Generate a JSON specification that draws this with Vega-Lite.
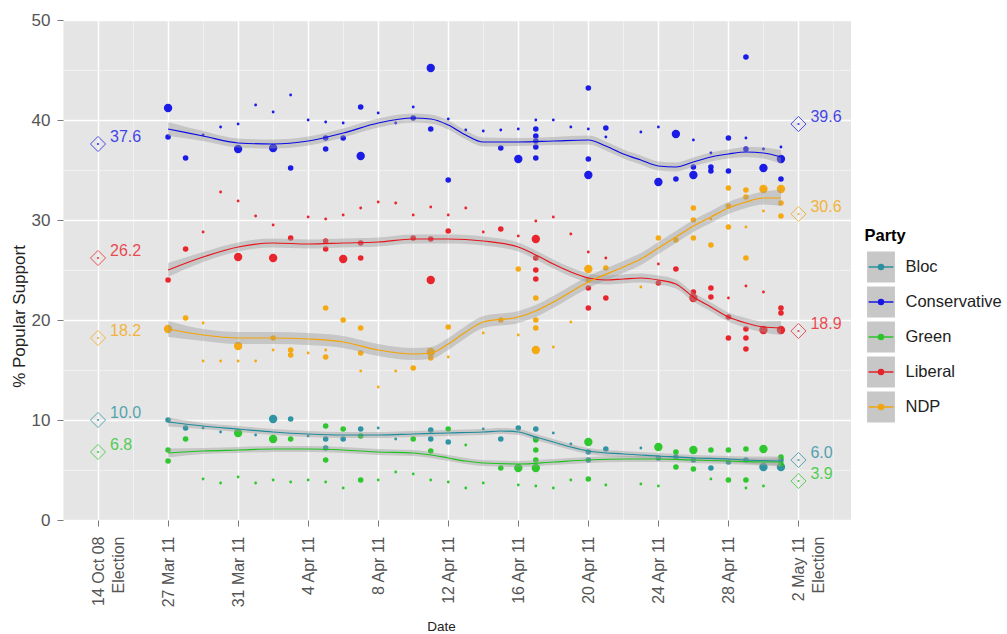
{
  "$schema": "https://vega.github.io/schema/vega-lite/v6.json",
  "width": 788,
  "height": 500,
  "autosize": {"type": "none"},
  "padding": {"left": 63, "top": 20, "right": 156, "bottom": 114},
  "background": "white",
  "config": {
    "font": "Liberation Sans",
    "view": {"fill": "#e5e5e5", "stroke": null},
    "axis": {"domain": false, "labelFont": "Liberation Sans", "titleFont": "Liberation Sans", "labelColor": "#555555", "titleFontWeight": "normal", "titleColor": "#222222"},
    "legend": {"labelFont": "Liberation Sans", "titleFont": "Liberation Sans"}
  },
  "datasets": {
    "polls": [
      {"party":"Conservative","day":0,"pct":41.2,"n":2000},{"party":"Conservative","day":0,"pct":38.3,"n":1000},{"party":"Conservative","day":1,"pct":36.2,"n":1000},{"party":"Conservative","day":2,"pct":38.5,"n":400},{"party":"Conservative","day":3,"pct":39.3,"n":400},{"party":"Conservative","day":4,"pct":39.6,"n":400},{"party":"Conservative","day":4,"pct":37.1,"n":2000},{"party":"Conservative","day":5,"pct":41.5,"n":400},{"party":"Conservative","day":6,"pct":40.8,"n":400},{"party":"Conservative","day":6,"pct":37.2,"n":2000},{"party":"Conservative","day":7,"pct":35.2,"n":1000},{"party":"Conservative","day":7,"pct":42.5,"n":400},{"party":"Conservative","day":8,"pct":40.0,"n":400},{"party":"Conservative","day":9,"pct":39.8,"n":400},{"party":"Conservative","day":9,"pct":38.2,"n":1000},{"party":"Conservative","day":9,"pct":37.1,"n":1000},{"party":"Conservative","day":10,"pct":39.7,"n":400},{"party":"Conservative","day":10,"pct":38.2,"n":1000},{"party":"Conservative","day":11,"pct":41.3,"n":1000},{"party":"Conservative","day":11,"pct":36.4,"n":2000},{"party":"Conservative","day":12,"pct":40.7,"n":400},{"party":"Conservative","day":13,"pct":39.7,"n":400},{"party":"Conservative","day":14,"pct":41.3,"n":400},{"party":"Conservative","day":14,"pct":40.2,"n":1000},{"party":"Conservative","day":15,"pct":45.2,"n":2000},{"party":"Conservative","day":15,"pct":39.1,"n":1000},{"party":"Conservative","day":16,"pct":34.0,"n":1000},{"party":"Conservative","day":16,"pct":40.1,"n":400},{"party":"Conservative","day":17,"pct":39.0,"n":400},{"party":"Conservative","day":18,"pct":38.9,"n":400},{"party":"Conservative","day":19,"pct":39.0,"n":400},{"party":"Conservative","day":19,"pct":37.2,"n":1000},{"party":"Conservative","day":20,"pct":39.1,"n":400},{"party":"Conservative","day":20,"pct":36.1,"n":2000},{"party":"Conservative","day":21,"pct":40.0,"n":400},{"party":"Conservative","day":21,"pct":39.1,"n":1000},{"party":"Conservative","day":21,"pct":38.4,"n":1000},{"party":"Conservative","day":21,"pct":37.9,"n":1000},{"party":"Conservative","day":21,"pct":37.3,"n":1000},{"party":"Conservative","day":21,"pct":36.2,"n":1000},{"party":"Conservative","day":22,"pct":40.0,"n":400},{"party":"Conservative","day":23,"pct":39.3,"n":400},{"party":"Conservative","day":24,"pct":39.1,"n":400},{"party":"Conservative","day":24,"pct":43.2,"n":1000},{"party":"Conservative","day":24,"pct":36.1,"n":1000},{"party":"Conservative","day":24,"pct":34.5,"n":2000},{"party":"Conservative","day":25,"pct":39.2,"n":1000},{"party":"Conservative","day":25,"pct":38.3,"n":400},{"party":"Conservative","day":27,"pct":38.8,"n":400},{"party":"Conservative","day":28,"pct":39.3,"n":400},{"party":"Conservative","day":28,"pct":33.8,"n":2000},{"party":"Conservative","day":29,"pct":38.6,"n":2000},{"party":"Conservative","day":29,"pct":34.1,"n":1000},{"party":"Conservative","day":30,"pct":38.0,"n":400},{"party":"Conservative","day":30,"pct":35.3,"n":1000},{"party":"Conservative","day":30,"pct":34.5,"n":2000},{"party":"Conservative","day":31,"pct":36.7,"n":400},{"party":"Conservative","day":31,"pct":35.3,"n":1000},{"party":"Conservative","day":31,"pct":34.9,"n":1000},{"party":"Conservative","day":32,"pct":38.2,"n":1000},{"party":"Conservative","day":32,"pct":34.9,"n":1000},{"party":"Conservative","day":33,"pct":46.3,"n":1000},{"party":"Conservative","day":33,"pct":38.2,"n":400},{"party":"Conservative","day":33,"pct":37.1,"n":1000},{"party":"Conservative","day":34,"pct":37.1,"n":400},{"party":"Conservative","day":34,"pct":35.2,"n":2000},{"party":"Conservative","day":35,"pct":37.3,"n":400},{"party":"Conservative","day":35,"pct":36.1,"n":2000},{"party":"Conservative","day":35,"pct":34.1,"n":1000},
      {"party":"Liberal","day":0,"pct":24.0,"n":1000},{"party":"Liberal","day":1,"pct":27.1,"n":1000},{"party":"Liberal","day":2,"pct":28.8,"n":400},{"party":"Liberal","day":3,"pct":32.8,"n":400},{"party":"Liberal","day":4,"pct":31.9,"n":400},{"party":"Liberal","day":4,"pct":26.3,"n":2000},{"party":"Liberal","day":5,"pct":30.4,"n":400},{"party":"Liberal","day":6,"pct":29.5,"n":400},{"party":"Liberal","day":6,"pct":26.2,"n":2000},{"party":"Liberal","day":7,"pct":28.2,"n":1000},{"party":"Liberal","day":8,"pct":30.3,"n":400},{"party":"Liberal","day":9,"pct":30.1,"n":400},{"party":"Liberal","day":9,"pct":27.9,"n":1000},{"party":"Liberal","day":9,"pct":27.1,"n":1000},{"party":"Liberal","day":10,"pct":30.5,"n":400},{"party":"Liberal","day":10,"pct":26.1,"n":2000},{"party":"Liberal","day":11,"pct":31.2,"n":400},{"party":"Liberal","day":11,"pct":27.7,"n":1000},{"party":"Liberal","day":11,"pct":26.2,"n":1000},{"party":"Liberal","day":12,"pct":31.8,"n":400},{"party":"Liberal","day":13,"pct":31.7,"n":400},{"party":"Liberal","day":14,"pct":30.5,"n":400},{"party":"Liberal","day":14,"pct":28.2,"n":1000},{"party":"Liberal","day":15,"pct":31.3,"n":400},{"party":"Liberal","day":15,"pct":28.1,"n":1000},{"party":"Liberal","day":15,"pct":24.0,"n":2000},{"party":"Liberal","day":16,"pct":30.5,"n":400},{"party":"Liberal","day":16,"pct":28.9,"n":1000},{"party":"Liberal","day":17,"pct":31.2,"n":400},{"party":"Liberal","day":18,"pct":28.8,"n":400},{"party":"Liberal","day":19,"pct":29.1,"n":1000},{"party":"Liberal","day":20,"pct":28.4,"n":400},{"party":"Liberal","day":21,"pct":28.1,"n":2000},{"party":"Liberal","day":21,"pct":26.2,"n":1000},{"party":"Liberal","day":21,"pct":25.0,"n":1000},{"party":"Liberal","day":21,"pct":24.1,"n":1000},{"party":"Liberal","day":21,"pct":29.9,"n":400},{"party":"Liberal","day":22,"pct":30.3,"n":400},{"party":"Liberal","day":23,"pct":28.6,"n":400},{"party":"Liberal","day":24,"pct":26.8,"n":400},{"party":"Liberal","day":24,"pct":23.2,"n":1000},{"party":"Liberal","day":24,"pct":21.2,"n":1000},{"party":"Liberal","day":25,"pct":26.2,"n":400},{"party":"Liberal","day":25,"pct":22.2,"n":1000},{"party":"Liberal","day":28,"pct":25.6,"n":400},{"party":"Liberal","day":28,"pct":23.7,"n":1000},{"party":"Liberal","day":29,"pct":25.1,"n":1000},{"party":"Liberal","day":30,"pct":22.2,"n":2000},{"party":"Liberal","day":30,"pct":22.8,"n":1000},{"party":"Liberal","day":31,"pct":23.2,"n":1000},{"party":"Liberal","day":31,"pct":22.3,"n":1000},{"party":"Liberal","day":32,"pct":20.3,"n":1000},{"party":"Liberal","day":32,"pct":22.2,"n":400},{"party":"Liberal","day":32,"pct":18.2,"n":1000},{"party":"Liberal","day":33,"pct":23.4,"n":400},{"party":"Liberal","day":33,"pct":19.1,"n":1000},{"party":"Liberal","day":33,"pct":18.2,"n":1000},{"party":"Liberal","day":33,"pct":17.1,"n":1000},{"party":"Liberal","day":34,"pct":22.8,"n":400},{"party":"Liberal","day":34,"pct":19.0,"n":2000},{"party":"Liberal","day":35,"pct":21.2,"n":1000},{"party":"Liberal","day":35,"pct":20.7,"n":1000},{"party":"Liberal","day":35,"pct":19.0,"n":2000},
      {"party":"NDP","day":0,"pct":19.1,"n":2000},{"party":"NDP","day":1,"pct":20.2,"n":1000},{"party":"NDP","day":2,"pct":19.7,"n":400},{"party":"NDP","day":2,"pct":15.9,"n":400},{"party":"NDP","day":3,"pct":15.9,"n":400},{"party":"NDP","day":4,"pct":17.4,"n":2000},{"party":"NDP","day":4,"pct":15.9,"n":400},{"party":"NDP","day":5,"pct":15.9,"n":400},{"party":"NDP","day":6,"pct":18.2,"n":1000},{"party":"NDP","day":6,"pct":17.0,"n":400},{"party":"NDP","day":7,"pct":17.0,"n":1000},{"party":"NDP","day":7,"pct":16.5,"n":1000},{"party":"NDP","day":8,"pct":16.7,"n":400},{"party":"NDP","day":9,"pct":21.2,"n":1000},{"party":"NDP","day":9,"pct":16.3,"n":1000},{"party":"NDP","day":9,"pct":17.0,"n":400},{"party":"NDP","day":10,"pct":20.0,"n":1000},{"party":"NDP","day":11,"pct":19.2,"n":1000},{"party":"NDP","day":11,"pct":16.7,"n":1000},{"party":"NDP","day":11,"pct":14.9,"n":400},{"party":"NDP","day":12,"pct":13.3,"n":400},{"party":"NDP","day":13,"pct":14.9,"n":400},{"party":"NDP","day":14,"pct":15.2,"n":1000},{"party":"NDP","day":15,"pct":16.8,"n":2000},{"party":"NDP","day":15,"pct":16.2,"n":1000},{"party":"NDP","day":16,"pct":19.3,"n":1000},{"party":"NDP","day":16,"pct":16.3,"n":400},{"party":"NDP","day":18,"pct":18.7,"n":400},{"party":"NDP","day":19,"pct":20.0,"n":1000},{"party":"NDP","day":20,"pct":18.5,"n":400},{"party":"NDP","day":20,"pct":25.1,"n":1000},{"party":"NDP","day":21,"pct":22.2,"n":1000},{"party":"NDP","day":21,"pct":20.0,"n":1000},{"party":"NDP","day":21,"pct":19.2,"n":1000},{"party":"NDP","day":21,"pct":17.0,"n":2000},{"party":"NDP","day":22,"pct":17.3,"n":400},{"party":"NDP","day":23,"pct":19.8,"n":400},{"party":"NDP","day":24,"pct":25.1,"n":2000},{"party":"NDP","day":24,"pct":24.0,"n":1000},{"party":"NDP","day":25,"pct":25.2,"n":1000},{"party":"NDP","day":27,"pct":23.3,"n":400},{"party":"NDP","day":28,"pct":28.2,"n":1000},{"party":"NDP","day":29,"pct":28.0,"n":1000},{"party":"NDP","day":30,"pct":31.2,"n":1000},{"party":"NDP","day":30,"pct":30.0,"n":1000},{"party":"NDP","day":30,"pct":28.2,"n":1000},{"party":"NDP","day":31,"pct":27.5,"n":1000},{"party":"NDP","day":31,"pct":30.1,"n":400},{"party":"NDP","day":32,"pct":33.2,"n":1000},{"party":"NDP","day":32,"pct":31.4,"n":1000},{"party":"NDP","day":32,"pct":29.3,"n":1000},{"party":"NDP","day":33,"pct":33.0,"n":1000},{"party":"NDP","day":33,"pct":32.3,"n":1000},{"party":"NDP","day":33,"pct":29.3,"n":400},{"party":"NDP","day":33,"pct":26.2,"n":1000},{"party":"NDP","day":34,"pct":33.1,"n":2000},{"party":"NDP","day":34,"pct":30.9,"n":400},{"party":"NDP","day":35,"pct":33.1,"n":2000},{"party":"NDP","day":35,"pct":31.7,"n":1000},{"party":"NDP","day":35,"pct":30.4,"n":1000},
      {"party":"Bloc","day":0,"pct":10.0,"n":1000},{"party":"Bloc","day":1,"pct":9.2,"n":1000},{"party":"Bloc","day":2,"pct":9.2,"n":400},{"party":"Bloc","day":3,"pct":8.8,"n":400},{"party":"Bloc","day":5,"pct":8.5,"n":400},{"party":"Bloc","day":6,"pct":10.1,"n":2000},{"party":"Bloc","day":7,"pct":10.1,"n":1000},{"party":"Bloc","day":8,"pct":8.4,"n":400},{"party":"Bloc","day":9,"pct":8.1,"n":1000},{"party":"Bloc","day":9,"pct":7.2,"n":1000},{"party":"Bloc","day":10,"pct":8.1,"n":1000},{"party":"Bloc","day":11,"pct":9.1,"n":1000},{"party":"Bloc","day":12,"pct":9.2,"n":400},{"party":"Bloc","day":13,"pct":8.1,"n":400},{"party":"Bloc","day":15,"pct":9.0,"n":1000},{"party":"Bloc","day":15,"pct":8.1,"n":1000},{"party":"Bloc","day":16,"pct":7.8,"n":1000},{"party":"Bloc","day":18,"pct":9.1,"n":400},{"party":"Bloc","day":19,"pct":8.1,"n":1000},{"party":"Bloc","day":20,"pct":9.2,"n":1000},{"party":"Bloc","day":21,"pct":9.1,"n":1000},{"party":"Bloc","day":21,"pct":8.1,"n":1000},{"party":"Bloc","day":22,"pct":8.7,"n":400},{"party":"Bloc","day":23,"pct":7.6,"n":400},{"party":"Bloc","day":24,"pct":6.8,"n":1000},{"party":"Bloc","day":24,"pct":6.0,"n":1000},{"party":"Bloc","day":25,"pct":7.1,"n":1000},{"party":"Bloc","day":27,"pct":7.2,"n":400},{"party":"Bloc","day":28,"pct":6.2,"n":1000},{"party":"Bloc","day":29,"pct":6.3,"n":1000},{"party":"Bloc","day":30,"pct":6.0,"n":1000},{"party":"Bloc","day":31,"pct":5.2,"n":1000},{"party":"Bloc","day":32,"pct":5.8,"n":1000},{"party":"Bloc","day":33,"pct":6.0,"n":1000},{"party":"Bloc","day":34,"pct":5.3,"n":2000},{"party":"Bloc","day":35,"pct":5.3,"n":2000},{"party":"Bloc","day":35,"pct":6.0,"n":1000},
      {"party":"Green","day":0,"pct":7.0,"n":1000},{"party":"Green","day":0,"pct":5.9,"n":1000},{"party":"Green","day":1,"pct":8.1,"n":1000},{"party":"Green","day":2,"pct":4.1,"n":400},{"party":"Green","day":3,"pct":3.7,"n":400},{"party":"Green","day":4,"pct":8.7,"n":2000},{"party":"Green","day":4,"pct":4.3,"n":400},{"party":"Green","day":5,"pct":3.7,"n":400},{"party":"Green","day":6,"pct":8.1,"n":2000},{"party":"Green","day":6,"pct":4.0,"n":400},{"party":"Green","day":7,"pct":8.1,"n":1000},{"party":"Green","day":7,"pct":3.8,"n":400},{"party":"Green","day":8,"pct":4.0,"n":400},{"party":"Green","day":9,"pct":9.4,"n":1000},{"party":"Green","day":9,"pct":6.0,"n":1000},{"party":"Green","day":9,"pct":3.8,"n":400},{"party":"Green","day":10,"pct":9.1,"n":1000},{"party":"Green","day":10,"pct":3.2,"n":400},{"party":"Green","day":11,"pct":8.4,"n":1000},{"party":"Green","day":11,"pct":4.0,"n":1000},{"party":"Green","day":12,"pct":4.0,"n":400},{"party":"Green","day":13,"pct":4.8,"n":400},{"party":"Green","day":14,"pct":8.1,"n":1000},{"party":"Green","day":14,"pct":4.6,"n":400},{"party":"Green","day":15,"pct":6.9,"n":1000},{"party":"Green","day":15,"pct":4.0,"n":400},{"party":"Green","day":16,"pct":9.1,"n":1000},{"party":"Green","day":16,"pct":3.8,"n":400},{"party":"Green","day":17,"pct":7.5,"n":400},{"party":"Green","day":17,"pct":3.2,"n":400},{"party":"Green","day":18,"pct":3.7,"n":400},{"party":"Green","day":19,"pct":5.2,"n":1000},{"party":"Green","day":20,"pct":5.2,"n":2000},{"party":"Green","day":20,"pct":3.5,"n":400},{"party":"Green","day":21,"pct":8.0,"n":1000},{"party":"Green","day":21,"pct":7.0,"n":1000},{"party":"Green","day":21,"pct":6.0,"n":1000},{"party":"Green","day":21,"pct":5.2,"n":2000},{"party":"Green","day":21,"pct":3.4,"n":400},{"party":"Green","day":22,"pct":3.2,"n":400},{"party":"Green","day":23,"pct":4.0,"n":400},{"party":"Green","day":24,"pct":7.8,"n":2000},{"party":"Green","day":24,"pct":4.1,"n":1000},{"party":"Green","day":25,"pct":3.5,"n":400},{"party":"Green","day":27,"pct":3.6,"n":400},{"party":"Green","day":28,"pct":7.3,"n":2000},{"party":"Green","day":28,"pct":3.4,"n":400},{"party":"Green","day":29,"pct":6.8,"n":1000},{"party":"Green","day":29,"pct":5.3,"n":1000},{"party":"Green","day":30,"pct":7.0,"n":2000},{"party":"Green","day":30,"pct":5.1,"n":1000},{"party":"Green","day":31,"pct":7.0,"n":1000},{"party":"Green","day":31,"pct":4.1,"n":400},{"party":"Green","day":32,"pct":7.0,"n":1000},{"party":"Green","day":32,"pct":4.0,"n":1000},{"party":"Green","day":33,"pct":7.1,"n":1000},{"party":"Green","day":33,"pct":4.0,"n":1000},{"party":"Green","day":33,"pct":3.2,"n":400},{"party":"Green","day":34,"pct":7.1,"n":2000},{"party":"Green","day":34,"pct":3.4,"n":400},{"party":"Green","day":35,"pct":6.3,"n":1000},{"party":"Green","day":35,"pct":5.6,"n":1000}
    ],
    "smooth": [
      {"party":"Conservative","day":0,"pct":39.1,"se":0.7},{"party":"Conservative","day":2,"pct":38.4,"se":0.5},{"party":"Conservative","day":4,"pct":37.7,"se":0.45},{"party":"Conservative","day":6,"pct":37.6,"se":0.45},{"party":"Conservative","day":8,"pct":37.9,"se":0.45},{"party":"Conservative","day":10,"pct":38.7,"se":0.45},{"party":"Conservative","day":12,"pct":39.7,"se":0.45},{"party":"Conservative","day":14,"pct":40.2,"se":0.45},{"party":"Conservative","day":15,"pct":40.1,"se":0.45},{"party":"Conservative","day":16,"pct":39.5,"se":0.45},{"party":"Conservative","day":17,"pct":38.5,"se":0.45},{"party":"Conservative","day":18,"pct":37.8,"se":0.45},{"party":"Conservative","day":20,"pct":37.8,"se":0.4},{"party":"Conservative","day":22,"pct":37.9,"se":0.4},{"party":"Conservative","day":24,"pct":38.0,"se":0.45},{"party":"Conservative","day":25,"pct":37.4,"se":0.45},{"party":"Conservative","day":26,"pct":36.6,"se":0.45},{"party":"Conservative","day":27,"pct":36.0,"se":0.45},{"party":"Conservative","day":28,"pct":35.4,"se":0.45},{"party":"Conservative","day":29,"pct":35.3,"se":0.45},{"party":"Conservative","day":30,"pct":35.8,"se":0.45},{"party":"Conservative","day":31,"pct":36.3,"se":0.45},{"party":"Conservative","day":32,"pct":36.6,"se":0.45},{"party":"Conservative","day":33,"pct":36.8,"se":0.5},{"party":"Conservative","day":34,"pct":36.7,"se":0.55},{"party":"Conservative","day":35,"pct":36.3,"se":0.7},
      {"party":"Liberal","day":0,"pct":25.0,"se":0.7},{"party":"Liberal","day":2,"pct":26.3,"se":0.5},{"party":"Liberal","day":4,"pct":27.3,"se":0.45},{"party":"Liberal","day":6,"pct":27.7,"se":0.45},{"party":"Liberal","day":8,"pct":27.6,"se":0.45},{"party":"Liberal","day":10,"pct":27.7,"se":0.45},{"party":"Liberal","day":12,"pct":27.8,"se":0.45},{"party":"Liberal","day":14,"pct":28.1,"se":0.45},{"party":"Liberal","day":16,"pct":28.1,"se":0.45},{"party":"Liberal","day":18,"pct":27.9,"se":0.45},{"party":"Liberal","day":20,"pct":27.3,"se":0.45},{"party":"Liberal","day":21,"pct":26.5,"se":0.45},{"party":"Liberal","day":22,"pct":25.6,"se":0.45},{"party":"Liberal","day":23,"pct":24.8,"se":0.45},{"party":"Liberal","day":24,"pct":24.2,"se":0.45},{"party":"Liberal","day":25,"pct":24.0,"se":0.45},{"party":"Liberal","day":26,"pct":24.1,"se":0.45},{"party":"Liberal","day":27,"pct":24.2,"se":0.45},{"party":"Liberal","day":28,"pct":24.0,"se":0.45},{"party":"Liberal","day":29,"pct":23.6,"se":0.45},{"party":"Liberal","day":30,"pct":22.3,"se":0.45},{"party":"Liberal","day":31,"pct":21.3,"se":0.45},{"party":"Liberal","day":32,"pct":20.3,"se":0.45},{"party":"Liberal","day":33,"pct":19.7,"se":0.5},{"party":"Liberal","day":34,"pct":19.3,"se":0.55},{"party":"Liberal","day":35,"pct":19.2,"se":0.7},
      {"party":"NDP","day":0,"pct":19.1,"se":0.8},{"party":"NDP","day":2,"pct":18.5,"se":0.6},{"party":"NDP","day":4,"pct":18.2,"se":0.6},{"party":"NDP","day":6,"pct":18.2,"se":0.6},{"party":"NDP","day":8,"pct":18.1,"se":0.6},{"party":"NDP","day":10,"pct":17.8,"se":0.6},{"party":"NDP","day":12,"pct":17.0,"se":0.6},{"party":"NDP","day":14,"pct":16.6,"se":0.6},{"party":"NDP","day":15,"pct":16.7,"se":0.6},{"party":"NDP","day":16,"pct":17.6,"se":0.6},{"party":"NDP","day":17,"pct":18.8,"se":0.6},{"party":"NDP","day":18,"pct":19.8,"se":0.6},{"party":"NDP","day":20,"pct":20.3,"se":0.6},{"party":"NDP","day":21,"pct":20.9,"se":0.6},{"party":"NDP","day":22,"pct":21.8,"se":0.6},{"party":"NDP","day":24,"pct":23.8,"se":0.6},{"party":"NDP","day":26,"pct":25.3,"se":0.6},{"party":"NDP","day":27,"pct":26.1,"se":0.6},{"party":"NDP","day":28,"pct":27.2,"se":0.6},{"party":"NDP","day":29,"pct":28.3,"se":0.6},{"party":"NDP","day":30,"pct":29.4,"se":0.6},{"party":"NDP","day":31,"pct":30.3,"se":0.6},{"party":"NDP","day":32,"pct":31.2,"se":0.6},{"party":"NDP","day":33,"pct":31.8,"se":0.6},{"party":"NDP","day":34,"pct":32.2,"se":0.65},{"party":"NDP","day":35,"pct":32.2,"se":0.8},
      {"party":"Bloc","day":0,"pct":9.8,"se":0.45},{"party":"Bloc","day":2,"pct":9.4,"se":0.3},{"party":"Bloc","day":4,"pct":9.1,"se":0.3},{"party":"Bloc","day":6,"pct":8.8,"se":0.3},{"party":"Bloc","day":8,"pct":8.6,"se":0.3},{"party":"Bloc","day":10,"pct":8.5,"se":0.3},{"party":"Bloc","day":12,"pct":8.5,"se":0.3},{"party":"Bloc","day":14,"pct":8.6,"se":0.3},{"party":"Bloc","day":16,"pct":8.7,"se":0.3},{"party":"Bloc","day":18,"pct":8.8,"se":0.3},{"party":"Bloc","day":19,"pct":8.9,"se":0.3},{"party":"Bloc","day":20,"pct":8.8,"se":0.3},{"party":"Bloc","day":21,"pct":8.3,"se":0.3},{"party":"Bloc","day":22,"pct":7.8,"se":0.3},{"party":"Bloc","day":23,"pct":7.3,"se":0.3},{"party":"Bloc","day":24,"pct":6.9,"se":0.3},{"party":"Bloc","day":26,"pct":6.6,"se":0.3},{"party":"Bloc","day":28,"pct":6.4,"se":0.3},{"party":"Bloc","day":30,"pct":6.2,"se":0.3},{"party":"Bloc","day":32,"pct":6.1,"se":0.3},{"party":"Bloc","day":33,"pct":6.0,"se":0.35},{"party":"Bloc","day":35,"pct":5.9,"se":0.45},
      {"party":"Green","day":0,"pct":6.7,"se":0.45},{"party":"Green","day":2,"pct":6.9,"se":0.3},{"party":"Green","day":4,"pct":7.0,"se":0.3},{"party":"Green","day":6,"pct":7.1,"se":0.3},{"party":"Green","day":8,"pct":7.1,"se":0.3},{"party":"Green","day":10,"pct":7.0,"se":0.3},{"party":"Green","day":12,"pct":6.8,"se":0.3},{"party":"Green","day":14,"pct":6.7,"se":0.3},{"party":"Green","day":15,"pct":6.5,"se":0.3},{"party":"Green","day":16,"pct":6.2,"se":0.3},{"party":"Green","day":17,"pct":5.9,"se":0.3},{"party":"Green","day":18,"pct":5.7,"se":0.3},{"party":"Green","day":20,"pct":5.6,"se":0.3},{"party":"Green","day":22,"pct":5.8,"se":0.3},{"party":"Green","day":24,"pct":6.0,"se":0.3},{"party":"Green","day":26,"pct":6.1,"se":0.3},{"party":"Green","day":28,"pct":6.1,"se":0.3},{"party":"Green","day":30,"pct":6.0,"se":0.3},{"party":"Green","day":32,"pct":5.9,"se":0.3},{"party":"Green","day":34,"pct":5.8,"se":0.35},{"party":"Green","day":35,"pct":5.8,"se":0.45}
    ],
    "election": [
      {"party":"Bloc","day":-4,"pct":10.0},{"party":"Bloc","day":36,"pct":6.0},
      {"party":"Conservative","day":-4,"pct":37.6},{"party":"Conservative","day":36,"pct":39.6},
      {"party":"Green","day":-4,"pct":6.8},{"party":"Green","day":36,"pct":3.9},
      {"party":"Liberal","day":-4,"pct":26.2},{"party":"Liberal","day":36,"pct":18.9},
      {"party":"NDP","day":-4,"pct":18.2},{"party":"NDP","day":36,"pct":30.6}
    ]
  },
  "encoding": {
    "x": {
      "field": "day", "type": "quantitative",
      "scale": {"domain": [-6, 39], "nice": false, "zero": false},
      "axis": {
        "title": "Date", "titleFontSize": 13.5, "titleX": 378, "titleY": 106, "titleBaseline": "middle", "titleAnchor": "middle",
        "values": [-6,-4,-2,0,2,4,6,8,10,12,14,16,18,20,22,24,26,28,30,32,34,36,38],
        "labelExpr": "datum.value % 4 != 0 ? '' : datum.value == -4 ? ['14 Oct 08', 'Election'] : datum.value == 36 ? ['2 May 11', 'Election'] : timeFormat(datetime(2011, 2, 27 + datum.value), '%-d %b %y')",
        "labelAngle": -90, "labelFontSize": 16, "labelLineHeight": 20, "labelOverlap": false, "labelBound": false, "labelFlush": false, "labelPadding": 10,
        "tickSize": 6,
        "tickColor": {"condition": {"test": "datum.value % 4 != 0", "value": "transparent"}, "value": "#7a7a7a"},
        "grid": true,
        "gridColor": {"condition": {"test": "datum.value % 4 != 0", "value": "#f2f2f2"}, "value": "#ffffff"},
        "gridWidth": {"condition": {"test": "datum.value % 4 != 0", "value": 0.8}, "value": 1.5}
      }
    },
    "y": {
      "field": "pct", "type": "quantitative",
      "scale": {"domain": [0, 50], "nice": false},
      "axis": {
        "title": "% Popular Support", "titleFontSize": 17, "titleX": -44, "titleY": 296, "titleBaseline": "middle", "titleAnchor": "middle", "titleAngle": 270,
        "values": [0,5,10,15,20,25,30,35,40,45,50],
        "labelExpr": "datum.value % 10 == 0 ? datum.label : ''",
        "labelFontSize": 17, "labelPadding": 7, "tickSize": 6,
        "tickColor": {"condition": {"test": "datum.value % 10 != 0", "value": "transparent"}, "value": "#7a7a7a"},
        "grid": true,
        "gridColor": {"condition": {"test": "datum.value % 10 != 0", "value": "#f2f2f2"}, "value": "#ffffff"},
        "gridWidth": {"condition": {"test": "datum.value % 10 != 0", "value": 0.8}, "value": 1.5}
      }
    }
  },
  "layer": [
    {
      "data": {"name": "polls"},
      "mark": {"type": "circle", "opacity": 0.92},
      "encoding": {
        "fill": {
          "field": "party", "type": "nominal",
          "scale": {"domain": ["Bloc","Conservative","Green","Liberal","NDP"], "range": ["#1e8c9c","#0a0ae6","#1ec41e","#e8141c","#f5a300"]},
          "legend": {
            "title": "Party", "orient": "none", "legendX": 801.5, "legendY": 208, "padding": 0, "zindex": 2,
            "symbolType": "M-0.9,-1L-0.9,-1M0.9,1L0.9,1M-0.8,0H0.8M-0.16,0A0.16,0.16 0 1,0 0.16,0A0.16,0.16 0 1,0 -0.16,0",
            "symbolSize": 961, "rowPadding": -10, "labelFontSize": 16.5, "labelColor": "#222222", "labelOffset": 8,
            "titleFontSize": 16.5, "titleFontWeight": "bold", "titleColor": "#000000", "titlePadding": 6,
            "encode": {"symbols": {"update": {"shape": {"value": "M-0.9,-1L-0.9,-1M0.9,1L0.9,1M-0.8,0H0.8M-0.16,0A0.16,0.16 0 1,0 0.16,0A0.16,0.16 0 1,0 -0.16,0"}, "size": {"value": 961}, "stroke": {"scale": "fill", "field": "value"}, "fill": {"scale": "fill", "field": "value"}, "strokeWidth": {"value": 1.3}, "opacity": {"value": 1}}}}
          }
        },
        "size": {"field": "n", "type": "quantitative", "scale": {"domain": [400, 2000], "range": [8, 70], "zero": false}, "legend": null}
      }
    },
    {
      "data": {"name": "smooth"},
      "mark": {"type": "errorband", "interpolate": "monotone", "band": {"opacity": 0.42}},
      "encoding": {
        "yError": {"field": "se"},
        "color": {
          "field": "party", "type": "nominal",
          "scale": {"domain": ["NDP","Liberal","Green","Conservative","Bloc"], "range": ["#9a9a9a","#9a9a9a","#9a9a9a","#9a9a9a","#9a9a9a"]},
          "legend": {
            "title": "Party", "orient": "none", "legendX": 801.5, "legendY": 208, "padding": 0, "zindex": 1,
            "symbolType": "M-0.9,-1H0.9V1H-0.9Z",
            "symbolSize": 961, "rowPadding": -10, "labelFontSize": 16.5, "labelExpr": "''", "labelOffset": 8,
            "titleFontSize": 16.5, "titleFontWeight": "bold", "titleColor": "transparent", "titlePadding": 6,
            "symbolStrokeColor": "transparent", "symbolOpacity": 0.55, "symbolStrokeWidth": 1.3,
            "encode": {"symbols": {"update": {"shape": {"value": "M-0.9,-1H0.9V1H-0.9Z"}, "size": {"value": 961}, "stroke": {"value": "transparent"}, "strokeWidth": {"value": 1.3}, "opacity": {"value": 0.55}}}}
          }
        }
      }
    },
    {
      "data": {"name": "smooth"},
      "mark": {"type": "line", "interpolate": "monotone", "strokeWidth": 1.2},
      "encoding": {
        "stroke": {"field": "party", "type": "nominal", "scale": {"domain": ["Bloc","Conservative","Green","Liberal","NDP"], "range": ["#1e8c9c","#0a0ae6","#1ec41e","#e8141c","#f5a300"]}, "legend": null}
      }
    },
    {
      "data": {"name": "election"},
      "mark": {"type": "point", "shape": "diamond", "filled": false, "size": 230, "strokeWidth": 1, "opacity": 0.7},
      "encoding": {
        "stroke": {"field": "party", "type": "nominal", "legend": null}
      }
    },
    {
      "data": {"name": "election"},
      "mark": {"type": "circle", "size": 5, "opacity": 0.8},
      "encoding": {
        "fill": {"field": "party", "type": "nominal"}
      }
    },
    {
      "data": {"name": "election"},
      "mark": {"type": "text", "align": "left", "baseline": "middle", "dx": 12, "dy": -7, "fontSize": 16, "opacity": 0.75},
      "encoding": {
        "text": {"field": "pct", "type": "quantitative", "format": ".1f"},
        "fill": {"field": "party", "type": "nominal"}
      }
    }
  ]
}
